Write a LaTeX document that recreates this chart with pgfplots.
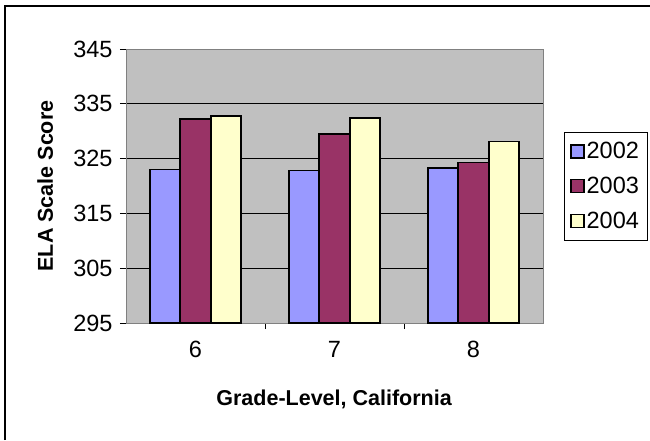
\documentclass[border=0pt]{standalone}
\usepackage{pgfplots}
\pgfplotsset{compat=1.18}
\usepackage{fontspec}
\setmainfont{Liberation Sans}

\definecolor{plotbg}{HTML}{C0C0C0}
\definecolor{frameGray}{HTML}{808080}
\definecolor{cA}{HTML}{9999FF}
\definecolor{cB}{HTML}{993366}
\definecolor{cC}{HTML}{FFFFCC}

\newcommand{\tickfont}{\fontsize{23.5}{27}\selectfont}

\begin{document}
\begin{tikzpicture}
\useasboundingbox (0pt,0pt) rectangle (650pt,440pt);
% chart area border (left and top edges)
\draw[line width=1.5pt] (5pt,0pt) -- (5pt,434pt) -- (651pt,434pt);
\begin{axis}[
  at={(126pt,117pt)}, anchor=south west,
  scale only axis, width=417pt, height=274pt,
  axis background/.style={fill=plotbg},
  axis line style={frameGray, line width=1pt},
  ybar=0pt, bar width=30.5pt,
  xmin=-0.5, xmax=2.5, ymin=295, ymax=345,
  xtick={0,1,2}, xticklabels={6,7,8},
  major x tick style={draw=none},
  minor xtick={0.5,1.5},
  minor x tick style={black, line width=0.8pt},
  minor tick length=6pt,
  ytick={295,305,...,345},
  yticklabels={295,305,315,325,335,345},
  y tick style={black, line width=0.8pt},
  major tick length=6pt,
  tick align=outside,
  xtick pos=bottom, ytick pos=left,
  ymajorgrids,
  major grid style={black, line width=0.8pt},
  yticklabel style={font=\tickfont, anchor=east, xshift=-4pt},
  xticklabel style={font=\tickfont, anchor=north, yshift=-9pt},
  every axis x label/.style={at={(axis description cs:0.499,-0.277)}, anchor=center,
    font=\fontsize{21.5}{25}\selectfont\bfseries},
  every axis y label/.style={at={(axis description cs:-0.194,0.5)}, anchor=center, rotate=90,
    font=\fontsize{21.5}{25}\selectfont\bfseries},
  xlabel={Grade-Level, California},
  ylabel={ELA Scale Score},
  legend style={at={(axis description cs:1.050,0.697)}, anchor=north west,
    draw=black, line width=0.8pt, fill=white,
    font=\fontsize{23.5}{27}\selectfont,
    inner xsep=6pt, inner ysep=8pt, row sep=13pt,
    /tikz/every even column/.append style={column sep=2pt}},
  legend cell align=left,
  legend image code/.code={\draw[#1, line width=1.4pt] (0pt,-6.5pt) rectangle (13pt,6.5pt);},
  every axis plot/.append style={draw=black, line width=1.6pt},
]
\addplot[fill=cA] coordinates {(0,323.0) (1,322.8) (2,323.3)};
\addplot[fill=cB] coordinates {(0,332.2) (1,329.5) (2,324.3)};
\addplot[fill=cC] coordinates {(0,332.8) (1,332.4) (2,328.1)};
\legend{2002,2003,2004}
\end{axis}
\end{tikzpicture}
\end{document}
